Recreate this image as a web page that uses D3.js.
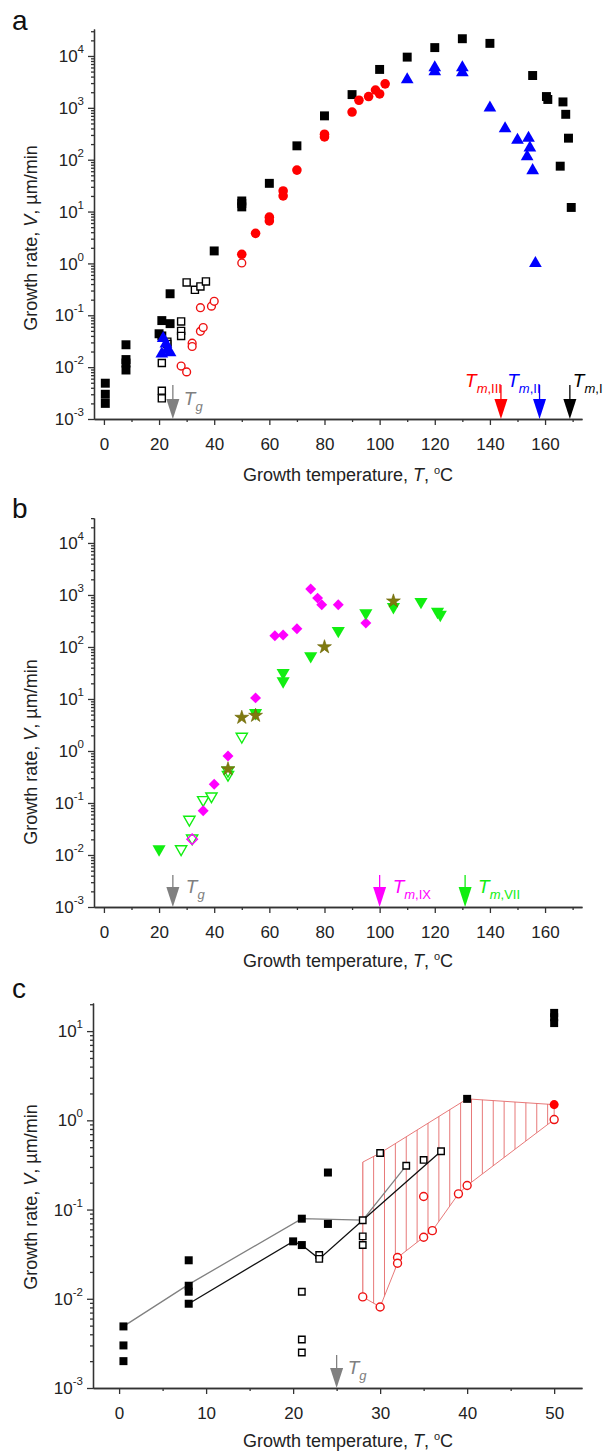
<!DOCTYPE html>
<html>
<head>
<meta charset="utf-8">
<script src="https://cdn.jsdelivr.net/npm/d3@7"></script>
<style>
body { margin: 0; background: #fff; }
svg { display: block; }
text { font-family: "Liberation Sans", Arial, sans-serif; }
</style>
</head>
<body>
<svg id="fig" width="605" height="1454"></svg>
<script>
"use strict";
// growth rate data: [T in °C, V in µm/min]
const formI = [[0.5, 0.0049], [0.5, 0.0030], [0.5, 0.0020], [8, 0.027], [8, 0.014], [8, 0.012], [8, 0.0088],
	[20, 0.044], [21, 0.079], [21, 0.040], [24, 0.26], [24, 0.069], [40, 1.74], [50, 16], [50, 14.3], [50, 12.3],
	[60, 35], [70, 185], [80, 700], [90, 1800], [100, 5500], [110, 9500], [120, 14500], [130, 21500], [140, 17500],
	[155.5, 4200], [160.5, 1650], [161, 1450], [165.5, 75], [166.5, 1300], [167.5, 750], [168.5, 260], [169.5, 12]];
const formIopen = [[21, 0.012], [21, 0.0035], [21, 0.0025], [23, 0.031], [23, 0.028], [28, 0.076], [28, 0.05],
	[28, 0.04], [30, 0.43], [33, 0.31], [35, 0.36], [37, 0.45]];
const formIII = [[50, 1.5], [55, 3.8], [60, 7.8], [60, 6.6], [65, 25], [65, 20], [70, 63], [80, 310], [80, 275],
	[90, 830], [92.5, 1400], [96, 1650], [98.5, 2200], [100, 1850], [102, 2900]];
const formIIIopen = [[28, 0.0105], [30, 0.0081], [32, 0.029], [32, 0.025], [35, 0.14], [35, 0.049], [36, 0.058],
	[39, 0.15], [40, 0.186], [50, 1.02]];
const formII = [[21, 0.018], [21.5, 0.036], [22.5, 0.028], [23, 0.022], [24, 0.019], [110, 3500], [120, 6000],
	[120, 5000], [130, 6000], [130, 4800], [140, 1000], [145.5, 400], [150, 240], [154, 260], [154.5, 170],
	[153.5, 115], [155.5, 62], [156.5, 1.0]];
// panel b
const formIX = [[36, 0.071], [40, 0.23], [45, 0.8], [55, 10.5], [62, 165], [65, 170], [70, 225], [75, 1300],
	[77.5, 870], [79, 650], [85, 650], [95, 290]];
const formIXopen = [[32, 0.02]];
const formVII = [[20, 0.013], [55, 5.4], [65, 32], [65, 22], [75, 67], [85, 205], [95, 450], [105, 590],
	[115, 740], [121, 480], [122, 420]];
const formVIIopen = [[28, 0.013], [31, 0.048], [32, 0.021], [36, 0.115], [39, 0.135], [45, 0.35], [45, 0.42], [50, 1.9]];
const starData = [[45, 0.45], [50, 4.4], [55, 4.8], [80, 100], [105, 760]];
// panel c guide lines and hatched band
const lineGray = [[0.5, 0.0049], [8, 0.0145], [21, 0.079], [28, 0.076], [33, 0.31]];
const lineBlack = [[8, 0.0088], [20, 0.044], [21, 0.040], [23, 0.028], [28, 0.076], [37, 0.45]];
const bandTop = [[28, 0.34], [30, 0.43], [40, 1.74], [50, 1.5]];
const bandBottom = [[50, 1.02], [40, 0.186], [39, 0.15], [36, 0.058], [35, 0.049], [32, 0.029], [32, 0.025], [30, 0.0081], [28, 0.0105]];
// arrows (melting / glass temperatures)
const arrowsA = [{T: 25, sub: "g", color: "#808080", side: "right"}, {T: 144, sub: "m,III", color: "#ff0000", side: "left"},
	{T: 158, sub: "m,II", color: "#0000ff", side: "left"}, {T: 169, sub: "m,I", color: "#000", side: "right", near: true}];
const arrowsB = [{T: 25, sub: "g", color: "#808080", side: "right"}, {T: 100, sub: "m,IX", color: "#ff00ff", side: "right"},
	{T: 131, sub: "m,VII", color: "#11ee11", side: "right"}];
const arrowsC = [{T: 25, sub: "g", color: "#808080", side: "right"}];
const xTicksAB = [0, 20, 40, 60, 80, 100, 120, 140, 160];
const xMinorAB = [10, 30, 50, 70, 90, 110, 130, 150, 170];
const xTicksC = [0, 10, 20, 30, 40, 50];
const xMinorC = [5, 15, 25, 35, 45];
const expAB = [-3, -2, -1, 0, 1, 2, 3, 4];
const expC = [-3, -2, -1, 0, 1];

const svg = d3.select("#fig");

function panel(o) {
	const g = svg.append("g");
	const x = d3.scaleLinear().domain(o.xd).range(o.xr);
	const y = d3.scaleLog().domain(o.yd).range(o.yr);
	const minors = [];
	o.exps.forEach(e => {
		for (let k = 2; k <= 9; k++) {
			const v = k * Math.pow(10, e);
			if (v <= o.yd[1]) minors.push(v);
		}
	});
	g.append("g").attr("transform", "translate(" + o.xr[0] + ",0)")
	.call(d3.axisLeft(y).tickValues(o.exps.map(e => Math.pow(10, e))).tickSize(6).tickSizeOuter(0).tickFormat(""));
	g.append("g").attr("transform", "translate(" + o.xr[0] + ",0)")
	.call(d3.axisLeft(y).tickValues(minors).tickSize(3).tickSizeOuter(0).tickFormat(""));
	o.exps.forEach(e => {
		const t = g.append("text").attr("x", o.xr[0] - 10).attr("y", y(Math.pow(10, e))).attr("dy", "0.36em")
		.attr("text-anchor", "end").attr("font-size", 17).attr("fill", "#222").text("10");
		t.append("tspan").attr("dy", -9).attr("font-size", 11.5).text(e);
	});
	g.append("g").attr("transform", "translate(0," + o.yr[0] + ")")
	.call(d3.axisBottom(x).tickValues(o.xt).tickSize(6).tickSizeOuter(0).tickPadding(13))
	.selectAll("text").attr("font-size", 17).attr("fill", "#222").attr("font-family", "Liberation Sans, Arial, sans-serif");
	g.append("g").attr("transform", "translate(0," + o.yr[0] + ")")
	.call(d3.axisBottom(x).tickValues(o.xm).tickSize(3).tickSizeOuter(0).tickFormat(""));
	g.selectAll(".domain, .tick line").attr("stroke", "#333").attr("stroke-width", 1.3);
	// titles
	const xt = g.append("text").attr("x", 348).attr("y", o.xTitleY).attr("text-anchor", "middle").attr("font-size", 18).attr("fill", "#222");
	xt.append("tspan").text("Growth temperature, ");
	xt.append("tspan").attr("font-style", "italic").text("T");
	xt.append("tspan").text(", ");
	xt.append("tspan").attr("dy", -7).attr("font-size", 11).text("o");
	xt.append("tspan").attr("dy", 7).text("C");
	const yt = g.append("text").attr("transform", "translate(37," + o.yTitleC + ") rotate(-90)")
	.attr("text-anchor", "middle").attr("font-size", 18).attr("fill", "#222");
	yt.append("tspan").text("Growth rate, ");
	yt.append("tspan").attr("font-style", "italic").text("V");
	yt.append("tspan").text(", µm/min");
	g.append("text").attr("x", 12).attr("y", o.letterY).attr("font-size", 28).attr("fill", "#111").text(o.letter);
	// arrows
	o.arrows.forEach(a => {
		const ax = x(a.T), tip = o.yr[0];
		g.append("line").attr("x1", ax).attr("x2", ax).attr("y1", tip - o.arrowLen).attr("y2", tip - 12)
		.attr("stroke", a.color).attr("stroke-width", 1.3);
		g.append("path").attr("d", "M" + (ax - 6.5) + "," + (tip - 20) + "L" + (ax + 6.5) + "," + (tip - 20) + "L" + ax + "," + tip + "Z")
		.attr("fill", a.color);
		const base = a.sub === "g" ? tip - 14 : tip - o.labelRise;
		const lx = a.side === "right" ? ax + (a.near ? 3 : o.labelGap) : ax + 1;
		const lt = g.append("text").attr("x", lx).attr("y", base).attr("fill", a.color).attr("font-size", 19)
		.attr("text-anchor", a.side === "right" ? "start" : "end");
		lt.append("tspan").attr("font-style", "italic").text("T");
		const first = a.sub.split(",")[0];
		const rest = a.sub.slice(first.length);
		lt.append("tspan").attr("dy", 6).attr("font-size", 13).attr("font-style", "italic").text(first);
		if (rest) lt.append("tspan").attr("font-size", 13).text(rest);
	});
	return {g, x, y};
}

function marks(p, data, opt) {
	const sym = d3.symbol().type(opt.type).size(opt.size);
	p.g.append("g").selectAll("path").data(data).enter().append("path")
	.attr("d", sym)
	.attr("transform", d => "translate(" + p.x(d[0]) + "," + p.y(d[1]) + ")" + (opt.rot ? " rotate(" + opt.rot + ")" : ""))
	.attr("fill", opt.fill).attr("stroke", opt.stroke || "none").attr("stroke-width", opt.sw || 0);
}

// panel a
const pa = panel({xd: [-3.6, 173.4], xr: [94, 582], yd: [1e-3, Math.pow(10, 4.52)], yr: [419, 29], exps: expAB,
	xt: xTicksAB, xm: xMinorAB, xTitleY: 481, yTitleC: 238, letter: "a", letterY: 30, arrows: arrowsA,
	arrowLen: 34, labelRise: 32, labelGap: 11});
marks(pa, formI, {type: d3.symbolSquare, size: 80, fill: "#000"});
marks(pa, formIopen, {type: d3.symbolSquare, size: 50, fill: "#fff", stroke: "#000", sw: 1.4});
marks(pa, formIII, {type: d3.symbolCircle, size: 72, fill: "#ff0000"});
marks(pa, formIIIopen, {type: d3.symbolCircle, size: 48, fill: "#fff", stroke: "#ee1111", sw: 1.4});
marks(pa, formII, {type: d3.symbolTriangle, size: 70, fill: "#0000ff"});

// panel b
const pb = panel({xd: [-3.6, 173.4], xr: [94, 582], yd: [1e-3, Math.pow(10, 4.48)], yr: [907, 518], exps: expAB,
	xt: xTicksAB, xm: xMinorAB, xTitleY: 967, yTitleC: 752, letter: "b", letterY: 518, arrows: arrowsB,
	arrowLen: 32, labelRise: 14, labelGap: 13});
marks(pb, formVIIopen, {type: d3.symbolTriangle, size: 55, fill: "#fff", stroke: "#11ee11", sw: 1.4, rot: 180});
marks(pb, formIXopen, {type: d3.symbolSquare, size: 55, fill: "none", stroke: "#ff00ff", sw: 1.4, rot: 45});
marks(pb, formIX, {type: d3.symbolSquare, size: 60, fill: "#ff00ff", rot: 45});
marks(pb, formVII, {type: d3.symbolTriangle, size: 75, fill: "#11ee11", rot: 180});
marks(pb, starData, {type: d3.symbolStar, size: 60, fill: "#7f7a10", stroke: "#6b6400", sw: 0.6});

// panel c
const pc = panel({xd: [-3, 53.2], xr: [93, 582], yd: [1e-3, Math.pow(10, 1.315)], yr: [1388, 1003], exps: expC,
	xt: xTicksC, xm: xMinorC, xTitleY: 1447, yTitleC: 1197, letter: "c", letterY: 998, arrows: arrowsC,
	arrowLen: 33, labelRise: 15, labelGap: 11});
const bandPts = bandTop.concat(bandBottom).map(d => [pc.x(d[0]), pc.y(d[1])]);
pc.g.append("clipPath").attr("id", "band").append("path").attr("d", "M" + bandPts.join("L") + "Z");
const hatchT = d3.range(28, 50.01, 1.25);
pc.g.append("g").attr("clip-path", "url(#band)").selectAll("line").data(hatchT).enter().append("line")
.attr("x1", d => pc.x(d)).attr("x2", d => pc.x(d)).attr("y1", pc.y(20)).attr("y2", pc.y(0.001))
.attr("stroke", "#e46a6a").attr("stroke-width", 0.9);
pc.g.append("path").attr("d", "M" + bandPts.join("L") + "Z").attr("fill", "none").attr("stroke", "#e46a6a").attr("stroke-width", 0.9);
const lineGen = d3.line().x(d => pc.x(d[0])).y(d => pc.y(d[1]));
pc.g.append("path").datum(lineGray).attr("d", lineGen).attr("fill", "none").attr("stroke", "#808080").attr("stroke-width", 1.3);
pc.g.append("path").datum(lineBlack).attr("d", lineGen).attr("fill", "none").attr("stroke", "#111").attr("stroke-width", 1.3);
marks(pc, formI.filter(d => d[0] <= 50), {type: d3.symbolSquare, size: 64, fill: "#000"});
marks(pc, formIopen, {type: d3.symbolSquare, size: 42, fill: "#fff", stroke: "#000", sw: 1.4});
marks(pc, formIII.filter(d => d[0] <= 50), {type: d3.symbolCircle, size: 64, fill: "#ff0000"});
marks(pc, formIIIopen, {type: d3.symbolCircle, size: 50, fill: "#fff", stroke: "#ee1111", sw: 1.4});
</script>
</body>
</html>
